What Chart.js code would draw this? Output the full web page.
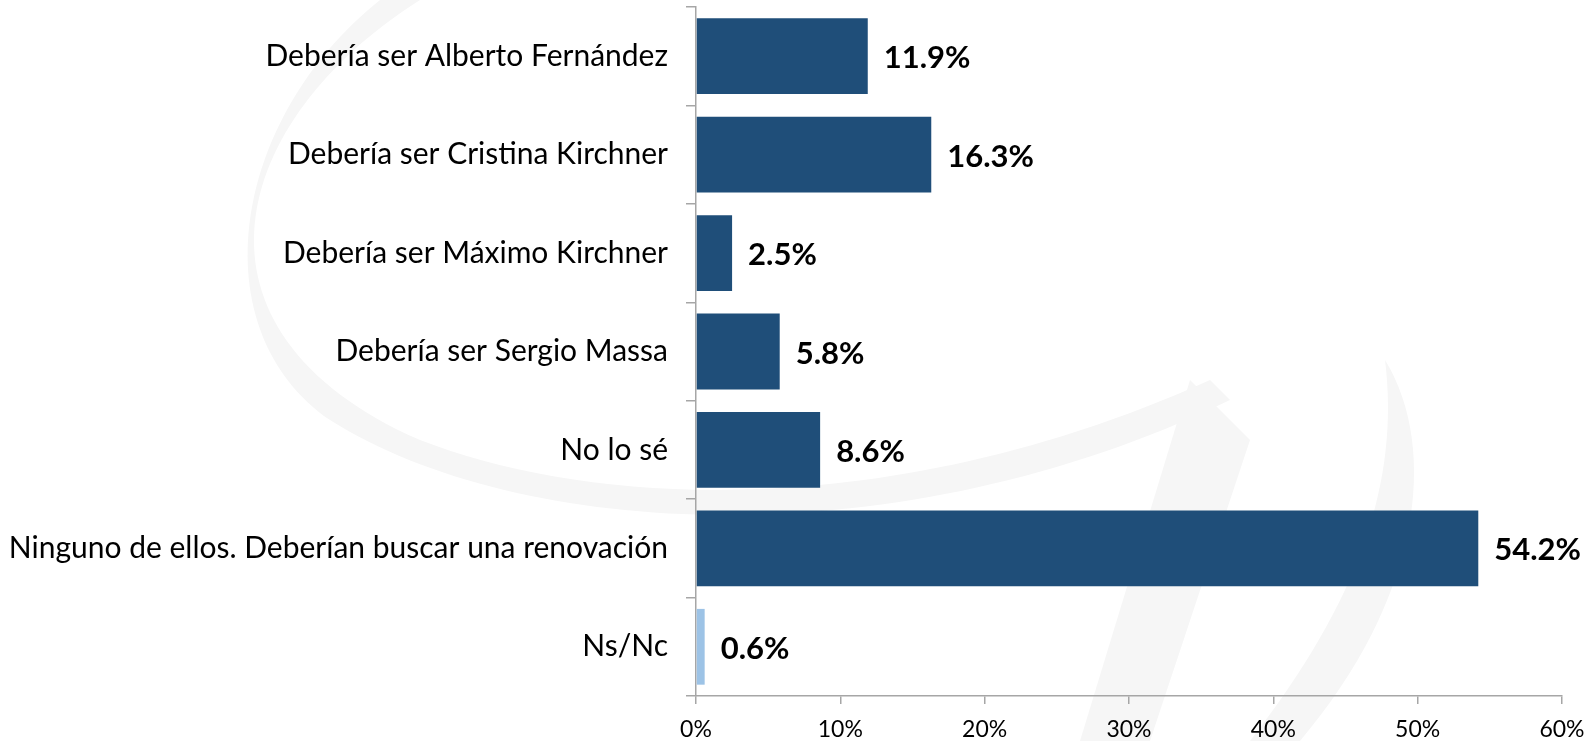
<!DOCTYPE html>
<html lang="es">
<head>
<meta charset="UTF-8" />
<title>Encuesta</title>
<script src="https://cdn.jsdelivr.net/npm/chart.js@4.4.0/dist/chart.umd.min.js"></script>
<style>
  html, body { margin: 0; padding: 0; background: #fff; }
  #wrap { width: 1592px; height: 741px; }
</style>
</head>
<body>
<div id="wrap"><canvas id="chart" width="1592" height="741"></canvas></div>
<script>
// data
const categories = [
  'Debería ser Alberto Fernández',
  'Debería ser Cristina Kirchner',
  'Debería ser Máximo Kirchner',
  'Debería ser Sergio Massa',
  'No lo sé',
  'Ninguno de ellos. Deberían buscar una renovación',
  'Ns/Nc'
];
const values = [11.9, 16.3, 2.5, 5.8, 8.6, 54.2, 0.6];
const barColors = ['#1f4e79', '#1f4e79', '#1f4e79', '#1f4e79', '#1f4e79', '#1f4e79', '#9dc3e6'];
const xTicks = [0, 10, 20, 30, 40, 50, 60];

// faint logo in the background
const watermark = {
  id: 'watermark',
  beforeDraw(chart) {
    const c = chart.ctx;
    c.save();
    c.fillStyle = '#f6f6f6';
    // big swoosh
    c.beginPath();
    c.moveTo(420, 0);
    c.bezierCurveTo(230, 120, 170, 330, 420, 440);
    c.bezierCurveTo(600, 510, 900, 520, 1210, 380);
    c.lineTo(1230, 400);
    c.bezierCurveTo(900, 560, 520, 540, 330, 420);
    c.bezierCurveTo(200, 330, 230, 120, 380, 0);
    c.closePath();
    c.fill();
    // right strokes
    c.beginPath();
    c.moveTo(1190, 380);
    c.lineTo(1250, 440);
    c.lineTo(1150, 741);
    c.lineTo(1080, 741);
    c.closePath();
    c.fill();
    c.beginPath();
    c.moveTo(1385, 360);
    c.bezierCurveTo(1440, 450, 1420, 600, 1300, 741);
    c.lineTo(1250, 741);
    c.bezierCurveTo(1360, 600, 1400, 480, 1385, 360);
    c.closePath();
    c.fill();
    c.restore();
  }
};

// value labels at the end of each bar
const valueLabels = {
  id: 'valueLabels',
  afterDatasetsDraw(chart) {
    const c = chart.ctx;
    const meta = chart.getDatasetMeta(0);
    c.save();
    c.font = 'bold 31px Lato';
    c.fillStyle = '#000';
    c.textBaseline = 'middle';
    c.textAlign = 'left';
    meta.data.forEach((bar, i) => {
      c.fillText(values[i].toFixed(1) + '%', bar.x + 16, bar.y + 2);
    });
    c.restore();
  }
};

new Chart(document.getElementById('chart'), {
  type: 'bar',
  data: {
    labels: categories,
    datasets: [{
      data: values,
      backgroundColor: barColors,
      barPercentage: 0.77,
      categoryPercentage: 1
    }]
  },
  plugins: [watermark, valueLabels],
  options: {
    indexAxis: 'y',
    responsive: false,
    animation: false,
    layout: { padding: { top: 7, right: 30, left: 0, bottom: 0 } },
    plugins: { legend: { display: false }, tooltip: { enabled: false } },
    scales: {
      x: {
        min: 0,
        max: 60,
        afterBuildTicks(scale) { scale.ticks = xTicks.map(v => ({ value: v })); },
        afterFit(scale) { scale.height = 45; scale.paddingLeft = 0; scale.paddingRight = 0; },
        border: { color: '#a6a6a6', width: 1.5 },
        grid: { drawOnChartArea: false, tickLength: 8, color: '#a6a6a6', lineWidth: 1.5 },
        ticks: {
          color: '#000',
          font: { family: 'Lato', size: 23 },
          padding: 12,
          callback: v => v + '%'
        }
      },
      y: {
        afterFit(scale) { scale.width = 696; scale.paddingTop = 0; scale.paddingBottom = 0; },
        border: { color: '#a6a6a6', width: 1.5 },
        grid: { drawOnChartArea: false, tickLength: 10, color: '#a6a6a6', lineWidth: 1.5, offset: true },
        ticks: {
          color: '#000',
          font: { family: 'Lato', size: 30 },
          padding: 18
        }
      }
    }
  }
});
</script>
</body>
</html>
